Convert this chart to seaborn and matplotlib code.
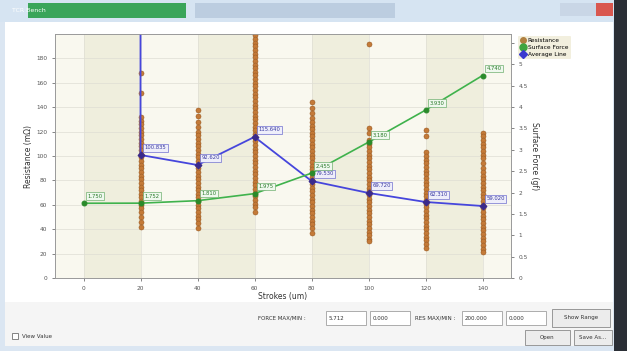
import numpy as np
import pandas as pd
import matplotlib
matplotlib.use("Agg")
import matplotlib.pyplot as plt
from matplotlib.patches import Rectangle
from matplotlib.lines import Line2D
import seaborn as sns

# ---------------- data ----------------
strokes = [0, 20, 40, 60, 80, 100, 120, 140]
x_ticks = [0, 20, 40, 60, 80, 100, 120, 140]

res_20 = [168, 152, 132, 129, 126, 123, 120, 117, 114, 111, 108, 105, 102, 99, 96, 93,
          90, 87, 84, 81, 78, 75, 72, 69, 66, 63, 60, 57, 54, 50, 46, 42]
res_40 = [138, 133, 128, 124, 120, 117, 114, 111, 108, 105, 102, 99, 96, 93, 90, 87,
          84, 81, 78, 75, 72, 69, 66, 63, 60, 57, 54, 51, 48, 45, 41]
res_60 = [199, 196, 193, 190, 187, 184, 181, 178, 175, 172, 169, 166, 163, 160, 157, 154,
          151, 148, 145, 142, 139, 136, 133, 130, 127, 124, 121, 118, 115, 112, 109, 106,
          103, 100, 97, 94, 91, 88, 85, 82, 79, 76, 73, 70, 67, 64, 61, 58, 54]
res_80 = [144, 139, 135, 131, 128, 125, 122, 119, 116, 113, 110, 107, 104, 101, 98, 95,
          92, 89, 86, 83, 80, 77, 74, 71, 68, 65, 62, 59, 56, 53, 50, 47, 44, 41, 37]
res_100 = [192, 123, 119, 113, 110, 107, 104, 101, 98, 95, 92, 89, 86, 83, 80, 77, 74,
           71, 68, 65, 62, 59, 56, 53, 50, 47, 44, 41, 38, 35, 32, 30]
res_120 = [121, 116, 103, 100, 97, 94, 91, 88, 85, 82, 79, 76, 73, 70, 67, 64, 61, 58,
           55, 52, 49, 46, 43, 40, 37, 34, 31, 28, 25]
res_140 = [119, 116, 113, 110, 107, 104, 101, 98, 94, 90, 87, 84, 81, 78, 75, 72, 69, 66,
           63, 60, 57, 54, 51, 48, 45, 42, 39, 36, 33, 30, 27, 24, 21]

force_values = [1.750, 1.752, 1.810, 1.975, 2.455, 3.180, 3.930, 4.740]

avg_x = [20, 20, 40, 60, 80, 100, 120, 140]
avg_values = [260.0, 100.835, 92.620, 115.640, 79.530, 69.720, 62.310, 59.020]

force_max, force_min = 5.712, 0.000
res_max, res_min = 200.000, 0.000

# ---------------- build tables ----------------
res_cols = {20: res_20, 40: res_40, 60: res_60, 80: res_80, 100: res_100, 120: res_120, 140: res_140}
res_df = pd.DataFrame([(k, v) for k, vals in res_cols.items() for v in vals],
                      columns=["stroke", "resistance"])
force_df = pd.DataFrame({"stroke": strokes, "force": force_values})
avg_df = pd.DataFrame({"stroke": avg_x, "avg": avg_values})

W, H = 627, 351
fig = plt.figure(figsize=(W / 100, H / 100), dpi=100)
fig.patch.set_facecolor("white")


def add_rect(x, y, w, h, fc, ec="none", lw=0.6, z=0):
    r = Rectangle((x / W, 1 - (y + h) / H), w / W, h / H, transform=fig.transFigure,
                  facecolor=fc, edgecolor=ec, linewidth=lw, zorder=z)
    fig.add_artist(r)


def add_text(x, y, s, size=4.5, color="#333333", ha="left", va="center", **kw):
    fig.text(x / W, 1 - y / H, s, fontsize=size, color=color, ha=ha, va=va, **kw)


# window chrome
add_rect(0, 0, W, H, "#dbe6f2")
add_rect(5, 22, 608, 324, "#ffffff")
add_rect(5, 302, 608, 44, "#f5f5f5")
add_rect(0, 0, W, 22, "#d6e4f2")
add_rect(28, 3, 158, 15, "#3aa55a")
add_rect(195, 3, 200, 15, "#bccde0")
add_rect(560, 3, 36, 13, "#c9d6e6")
add_rect(596, 3, 17, 13, "#d9574f")
add_text(12, 11, "TCR Bench", size=4.5, color="#ffffff")
add_rect(614, 0, 13, H, "#2b2f36")

# bottom panel controls
add_text(258, 318, "FORCE MAX/MIN :", size=4)
add_rect(326, 311, 40, 14, "#ffffff", "#a0a0a0")
add_text(329, 318, f"{force_max:.3f}", size=4)
add_rect(370, 311, 40, 14, "#ffffff", "#a0a0a0")
add_text(373, 318, f"{force_min:.3f}", size=4)
add_text(415, 318, "RES MAX/MIN :", size=4)
add_rect(462, 311, 40, 14, "#ffffff", "#a0a0a0")
add_text(465, 318, f"{res_max:.3f}", size=4)
add_rect(506, 311, 40, 14, "#ffffff", "#a0a0a0")
add_text(509, 318, f"{res_min:.3f}", size=4)
add_rect(552, 309, 58, 18, "#ececec", "#8a8a8a")
add_text(581, 318, "Show Range", size=4, ha="center")
add_rect(525, 330, 45, 15, "#ececec", "#8a8a8a")
add_text(547, 337.5, "Open", size=4, ha="center")
add_rect(574, 330, 38, 15, "#ececec", "#8a8a8a")
add_text(593, 337.5, "Save As...", size=4, ha="center")
add_rect(12, 333, 6, 6, "#ffffff", "#707070")
add_text(22, 336, "View Value", size=4)

# ---------------- plot ----------------
L, R, T, B = 55, 511, 34, 278
ax = fig.add_axes([L / W, 1 - B / H, (R - L) / W, (B - T) / H])
ax.set_facecolor("#f9f8ef")

# interlaced strips
for i, x0 in enumerate(range(0, 140, 20)):
    if i % 2 == 0:
        ax.axvspan(x0, x0 + 20, color="#efeedd", zorder=0, lw=0)
ax.grid(True, color="#deded4", lw=0.5, zorder=0.5)
ax.set_axisbelow(True)

sns.scatterplot(data=res_df, x="stroke", y="resistance", ax=ax, color="#c47a38",
                edgecolor="#9a5a22", linewidth=0.4, s=13, zorder=3, legend=False)

ax2 = ax.twinx()

sns.lineplot(data=avg_df, x="stroke", y="avg", ax=ax, estimator=None, sort=False,
             color="#4646dc", lw=1.3, marker="D", markersize=3.5,
             markerfacecolor="#3a2a8c", markeredgecolor="#3a2a8c", zorder=4, legend=False)
sns.lineplot(data=force_df, x="stroke", y="force", ax=ax2, estimator=None, sort=False,
             color="#3fb24c", lw=1.2, marker="o", markersize=3.5,
             markerfacecolor="#2a8a2a", markeredgecolor="#2a8a2a", zorder=4, legend=False)

ax.set_xlim(-10, 150)
ax.set_ylim(res_min, res_max)
ax.set_xticks(x_ticks)
ax.set_yticks(np.arange(0, 181, 20))
ax2.set_ylim(force_min, force_max)
rt = np.arange(0, 5.51, 0.5)
ax2.set_yticks(rt)
ax2.set_yticklabels([("%g" % v) for v in rt])

# value labels
for xv, yv in zip(avg_x[1:], avg_values[1:]):
    ax.annotate(f"{yv:.3f}", (xv, yv), xytext=(3, 4), textcoords="offset points",
                fontsize=3.8, color="#3a3aa0", zorder=6,
                bbox=dict(boxstyle="square,pad=0.25", fc="#eeeefa", ec="#7070d0", lw=0.5))
for xv, yv in zip(strokes, force_values):
    ax2.annotate(f"{yv:.3f}", (xv, yv), xytext=(3, 4), textcoords="offset points",
                 fontsize=3.8, color="#2a7a2a", zorder=6,
                 bbox=dict(boxstyle="square,pad=0.25", fc="#eff8ee", ec="#70b070", lw=0.5))

for a in (ax, ax2):
    for s in a.spines.values():
        s.set_color("#9a9a9a")
        s.set_linewidth(0.6)
    a.tick_params(labelsize=4.2, colors="#555555", length=2, width=0.5)
    a.set_xlabel("")
    a.set_ylabel("")

ax.set_xlabel("Strokes (um)", fontsize=5.5, color="#333333", labelpad=1)
ax.set_ylabel("Resistance (m\u03a9)", fontsize=5.5, color="#333333", labelpad=2)
ax2.set_ylabel("Surface Force (gf)", fontsize=5.5, color="#333333", rotation=-90, labelpad=8)

handles = [
    Line2D([], [], marker="o", ls="", color="#b08040", markersize=4),
    Line2D([], [], marker="o", ls="", color="#3fa53f", markersize=5),
    Line2D([], [], marker="D", ls="", color="#3a3ad0", markersize=4),
]
leg = fig.legend(handles, ["Resistance", "Surface Force", "Average Line"],
                 loc="upper left", bbox_to_anchor=(515 / W, 1 - 33 / H), fontsize=4.2,
                 frameon=True, facecolor="#f2efde", edgecolor="none", framealpha=1,
                 handletextpad=0.3, borderpad=0.4, labelspacing=0.3, handlelength=1.0)

fig.savefig("out.png", dpi=100)
